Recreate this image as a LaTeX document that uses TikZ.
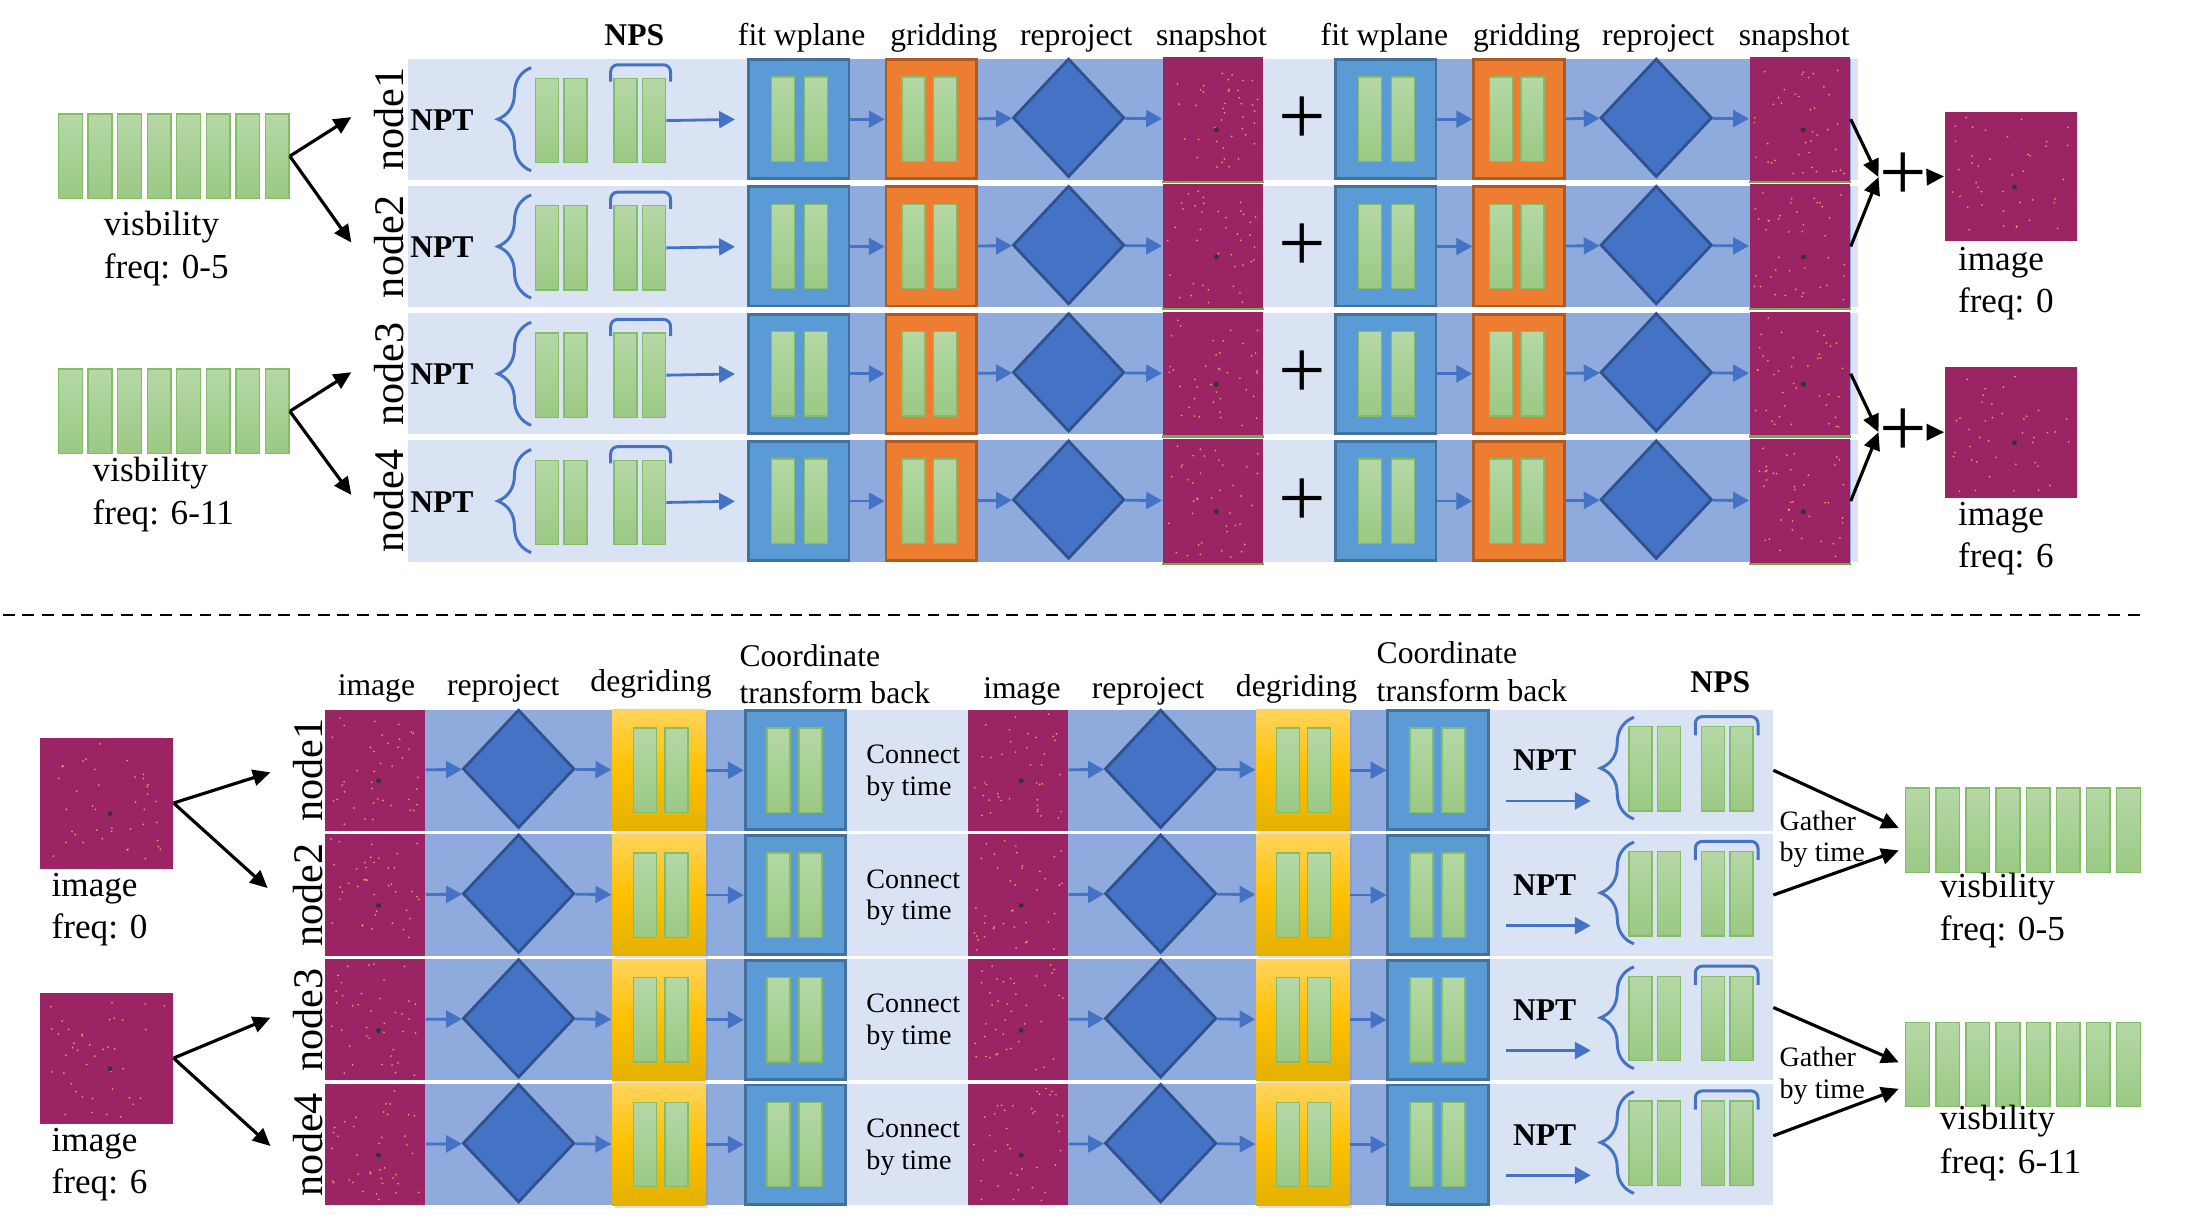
\documentclass[tikz,border=0pt]{standalone}
\usepackage{fontspec}
\setmainfont{Liberation Serif}
\usepackage{xcolor}
\usepackage{tikz}
\usetikzlibrary{shapes.geometric, arrows.meta, positioning, shadows, decorations.pathreplacing}

\definecolor{panelbg}{HTML}{DAE3F3}
\definecolor{bandbg}{HTML}{8FAADC}
\definecolor{fitfill}{HTML}{5B9BD5}
\definecolor{fitline}{HTML}{41719C}
\definecolor{gridfill}{HTML}{ED7D31}
\definecolor{gridline}{HTML}{AE5A21}
\definecolor{projfill}{HTML}{4472C4}
\definecolor{projline}{HTML}{2F528F}
\definecolor{skyfill}{HTML}{9B2464}
\definecolor{speck}{HTML}{F8C95A}
\definecolor{bartop}{HTML}{B5D8A6}
\definecolor{barbot}{HTML}{9BC984}
\definecolor{barline}{HTML}{84BC68}
\definecolor{flowblue}{HTML}{4472C4}
\definecolor{goldtop}{HTML}{FFD45C}
\definecolor{goldmid}{HTML}{FFC000}
\definecolor{goldbot}{HTML}{E3B100}
\definecolor{snapedge}{HTML}{70AD47}

\newcommand*{\pxu}{0.013941cm}

\tikzset{
  rowpanel/.style={rectangle, fill=panelbg, inner sep=0, outer sep=0, minimum height=87*\pxu},
  band/.style={rectangle, fill=bandbg, inner sep=0, outer sep=0, minimum height=87*\pxu},
  bar/.style={rectangle, draw=barline, line width=0.4pt, top color=bartop, bottom color=barbot, inner sep=0, minimum width=16.5*\pxu, minimum height=60.5*\pxu},
  fitbox/.style={rectangle, draw=fitline, fill=fitfill, line width=0.8pt, inner sep=0, minimum width=72*\pxu, minimum height=85.5*\pxu},
  gridbox/.style={fitbox, draw=gridline, fill=gridfill, minimum width=65*\pxu},
  degridbox/.style={rectangle, inner sep=0, top color=goldtop, bottom color=goldbot, middle color=goldmid, minimum width=67*\pxu, minimum height=87*\pxu, drop shadow={opacity=0.25, shadow xshift=0.8pt, shadow yshift=-0.8pt}},
  projdiamond/.style={diamond, draw=projline, fill=projfill, line width=0.8pt, inner sep=0, minimum width=80*\pxu, minimum height=85*\pxu},
  skyimg/.style={rectangle, fill=skyfill, inner sep=0, minimum width=72*\pxu, minimum height=87*\pxu},
  flow/.style={-{Triangle[length=4.5pt, width=4.8pt]}, draw=flowblue, line width=0.8pt},
  split/.style={-{Triangle[length=5pt, width=4.6pt]}, line width=0.9pt},
  brk/.style={draw=flowblue, line width=0.85pt, rounded corners=2pt},
  npbrace/.style={draw=flowblue, line width=0.85pt, decorate, decoration={brace, amplitude=9.5pt}},
  head/.style={anchor=base, inner sep=0, font=\fontsize{9}{10}\selectfont},
  headl/.style={head, anchor=base west},
  headb/.style={head, font=\fontsize{9}{10}\selectfont\bfseries},
  tag/.style={inner sep=0, font=\fontsize{9}{10}\selectfont\bfseries},
  nodelbl/.style={rotate=90, inner sep=0, font=\fontsize{12}{12}\selectfont},
  lbl/.style={anchor=base west, inner sep=0, font=\fontsize{10}{12}\selectfont},
  note/.style={anchor=base west, inner sep=0, font=\fontsize{8}{9}\selectfont},
  plussign/.style={inner sep=0, font=\fontsize{24}{24}\selectfont},
  cutline/.style={dash pattern=on 3.4pt off 2.2pt, line width=0.6pt},
}

% two green blocks side by side: [gap]{name}{x}{y}
\newcommand{\twobars}[4][3]{%
  \node[bar, anchor=east] (#2-l) at ({#3-#1/2},#4) {};
  \node[bar, anchor=west] (#2-r) at ({#3+#1/2},#4) {};}

% speckled sky picture: {node}{half width pt}{half height pt}
\newcommand{\speckle}[3]{%
  \foreach \k in {1,...,40}{%
    \fill[speck, opacity=0.75] ([xshift=rand*#2pt, yshift=rand*#3pt]#1.center) circle (0.28pt);}
  \fill[black!80] ([xshift=1pt, yshift=-3pt]#1.center) circle (0.7pt);}

\begin{document}
\begin{tikzpicture}[x=\pxu, y=-\pxu]
  \useasboundingbox (0,0) rectangle (1568,881);
  \pgfmathsetseed{11}

  % ---- top half: visibilities -> images
  \foreach \j in {1,...,8}{
    \node[bar, minimum width=17*\pxu] (visA\j) at ({50.5+21.2*(\j-1)},112) {};
    \node[bar, minimum width=17*\pxu] (visB\j) at ({50.5+21.2*(\j-1)},295) {};
  }
  \node[lbl] (visAt) at (74,168.6) {visbility};
  \node[lbl] (visAf) at (74,199.5) {freq: 0-5};
  \node[lbl] (visBt) at (66,345.5) {visbility};
  \node[lbl] (visBf) at (66,376.5) {freq: 6-11};

  \node[headb] (hNPSA) at (455,32.3) {NPS};
  \node[head] (hFitA) at (575,32.3) {fit wplane};
  \node[head] (hGridA) at (677,32.3) {gridding};
  \node[head] (hProjA) at (772,32.3) {reproject};
  \node[head] (hSnapA) at (869,32.3) {snapshot};
  \node[head] (hFitB) at (993,32.3) {fit wplane};
  \node[head] (hGridB) at (1095,32.3) {gridding};
  \node[head] (hProjB) at (1189.5,32.3) {reproject};
  \node[head] (hSnapB) at (1287,32.3) {snapshot};

  \foreach \i/\y in {1/85.5,2/176.8,3/268.1,4/359.4}{
    \node[rowpanel, minimum width=1040*\pxu] (rowA\i) at (813,\y) {};
    \node[band, minimum width=369*\pxu] (bandA\i) at (721.5,\y) {};
    \node[band, minimum width=371*\pxu] (bandB\i) at (1142.5,\y) {};
    \node[nodelbl] (nameA\i) at (279,\y) {node\i};
    \node[tag] (nptA\i) at (317,\y+0.5) {NPT};
    \draw[npbrace] (381,\y+37) -- (381,\y-37);
    \twobars{ntA\i}{402.5}{\y+1}
    \draw[brk] (438,\y-27) -- (438,\y-39) -- (481,\y-39) -- (481,\y-27);
    \twobars{nsA\i}{459}{\y+1}
    % first pass
    \node[fitbox] (fitA\i) at (573,\y) {};
    \twobars[6]{fbA\i}{573.5}{\y}
    \node[gridbox] (gridA\i) at (668,\y) {};
    \twobars[5]{gbA\i}{666.5}{\y}
    \node[projdiamond] (projA\i) at (766.5,\y-1) {};
    \node[skyimg, minimum height=89*\pxu] (snapA\i) at (870,\y) {};
    \draw[snapedge, line width=0.7pt] (snapA\i.south west) -- (snapA\i.south east);
    \speckle{snapA\i}{13}{16}
    \node[plussign] (plusA\i) at (934,\y+1) {+};
    % second pass
    \node[fitbox] (fitB\i) at (994,\y) {};
    \twobars[6]{fbB\i}{994.5}{\y}
    \node[gridbox] (gridB\i) at (1089.5,\y) {};
    \twobars[5]{gbB\i}{1088}{\y}
    \node[projdiamond] (projB\i) at (1188,\y-1) {};
    \node[skyimg, minimum height=89*\pxu] (snapB\i) at (1291,\y) {};
    \draw[snapedge, line width=0.7pt] (snapB\i.south west) -- (snapB\i.south east);
    \speckle{snapB\i}{13}{16}
    \draw[flow, shorten >=3.5pt] (nsA\i-r.east) -- (fitA\i.west);
    \draw[flow] (fitA\i) -- (gridA\i);
    \draw[flow] (gridA\i) -- (projA\i);
    \draw[flow] (projA\i) -- (snapA\i);
    \draw[flow] (fitB\i) -- (gridB\i);
    \draw[flow] (gridB\i) -- (projB\i);
    \draw[flow] (projB\i) -- (snapB\i);
  }

  \coordinate (inA1) at (252,84);
  \coordinate (inA2) at (252,174);
  \coordinate (inA3) at (252,267);
  \coordinate (inA4) at (252,355);
  \draw[split] (visA8.east) -- (inA1);
  \draw[split] (visA8.east) -- (inA2);
  \draw[split] (visB8.east) -- (inA3);
  \draw[split] (visB8.east) -- (inA4);

  \node[plussign] (sumA) at (1365,127) {+};
  \node[skyimg, minimum width=95*\pxu, minimum height=93*\pxu] (imgA) at (1442.5,126.5) {};
  \speckle{imgA}{17}{17}
  \node[plussign] (sumB) at (1365,310) {+};
  \node[skyimg, minimum width=95*\pxu, minimum height=94*\pxu] (imgB) at (1442.5,310) {};
  \speckle{imgB}{17}{17}
  \draw[split] (snapB1.east) -- (sumA.west);
  \draw[split] (snapB2.east) -- (sumA.west);
  \draw[split] (sumA.east) -- (imgA.west);
  \draw[split] (snapB3.east) -- (sumB.west);
  \draw[split] (snapB4.east) -- (sumB.west);
  \draw[split] (sumB.east) -- (imgB.west);
  \node[lbl] (imgAt) at (1404,194) {image};
  \node[lbl] (imgAf) at (1404,224) {freq: 0};
  \node[lbl] (imgBt) at (1404,377) {image};
  \node[lbl] (imgBf) at (1404,407) {freq: 6};

  \draw[cutline] (2,441) -- (1540,441);

  % ---- bottom half: images -> visibilities
  \node[skyimg, minimum width=95*\pxu, minimum height=94*\pxu] (imgC) at (76.5,576) {};
  \speckle{imgC}{17}{17}
  \node[skyimg, minimum width=95*\pxu, minimum height=94*\pxu] (imgD) at (76.5,759) {};
  \speckle{imgD}{17}{17}
  \node[lbl] (imgCt) at (36.6,643) {image};
  \node[lbl] (imgCf) at (36.6,673) {freq: 0};
  \node[lbl] (imgDt) at (36.6,826) {image};
  \node[lbl] (imgDf) at (36.6,856) {freq: 6};
  \coordinate (inB1) at (194,554);
  \coordinate (inB2) at (192,637);
  \coordinate (inB3) at (194,730);
  \coordinate (inB4) at (194,822);
  \draw[split] (imgC.east) -- (inB1);
  \draw[split] (imgC.east) -- (inB2);
  \draw[split] (imgD.east) -- (inB3);
  \draw[split] (imgD.east) -- (inB4);

  \node[head] (hImgA) at (270,498.6) {image};
  \node[head] (hRprA) at (361,498.6) {reproject};
  \node[head] (hDgrA) at (467,496) {degriding};
  \node[headl] (hCoA) at (530,478.2) {Coordinate};
  \node[headl] (hTbA) at (530,504.4) {transform back};
  \node[head] (hImgB) at (733,500.8) {image};
  \node[head] (hRprB) at (823.5,500.8) {reproject};
  \node[head] (hDgrB) at (930,499.8) {degriding};
  \node[headl] (hCoB) at (987,476) {Coordinate};
  \node[headl] (hTbB) at (987,503) {transform back};
  \node[headb] (hNPSB) at (1234,497) {NPS};

  \foreach \i/\y in {1/552.5,2/642,3/731.5,4/821}{
    \node[rowpanel, minimum width=1039*\pxu] (rowB\i) at (752.5,\y) {};
    \node[band, minimum width=374*\pxu] (bandC\i) at (420,\y) {};
    \node[band, minimum width=374*\pxu] (bandD\i) at (881,\y) {};
    \node[nodelbl] (nameB\i) at (221,\y) {node\i};
    % first pass
    \node[skyimg] (tileA\i) at (269,\y) {};
    \speckle{tileA\i}{13}{16}
    \node[projdiamond] (rprA\i) at (372,\y-1) {};
    \node[degridbox] (dgrA\i) at (472.5,\y) {};
    \twobars[5]{dbA\i}{474}{\y}
    \node[fitbox] (ctbA\i) at (570.5,\y) {};
    \twobars[5.5]{cbA\i}{570}{\y}
    \node[note] (cnA\i) at (621,\y-4.9) {Connect};
    \node[note] (ctA\i) at (621,\y+17.9) {by time};
    % second pass
    \node[skyimg] (tileB\i) at (730,\y) {};
    \speckle{tileB\i}{13}{16}
    \node[projdiamond] (rprB\i) at (832.5,\y-1) {};
    \node[degridbox] (dgrB\i) at (934.5,\y) {};
    \twobars[5]{dbB\i}{935}{\y}
    \node[fitbox] (ctbB\i) at (1031.5,\y) {};
    \twobars[5.5]{cbB\i}{1031}{\y}
    \node[tag] (nptB\i) at (1108,\y-7) {NPT};
    \coordinate (npsrcB\i) at (1080,\y+22);
    \coordinate (npdstB\i) at (1141,\y+22);
    \draw[flow] (npsrcB\i) -- (npdstB\i);
    \draw[npbrace] (1172,\y+35) -- (1172,\y-38);
    \twobars{ntB\i}{1187}{\y-1}
    \draw[brk] (1216,\y-25) -- (1216,\y-38.5) -- (1261,\y-38.5) -- (1261,\y-25);
    \twobars{nsB\i}{1239}{\y-1}
    \draw[flow] (tileA\i) -- (rprA\i);
    \draw[flow] (rprA\i) -- (dgrA\i);
    \draw[flow] (dgrA\i) -- (ctbA\i);
    \draw[flow] (tileB\i) -- (rprB\i);
    \draw[flow] (rprB\i) -- (dgrB\i);
    \draw[flow] (dgrB\i) -- (ctbB\i);
  }

  \foreach \j in {1,...,8}{
    \node[bar, minimum width=17*\pxu] (visC\j) at ({1375.5+21.6*(\j-1)},595.5) {};
    \node[bar, minimum width=17*\pxu] (visD\j) at ({1375.5+21.6*(\j-1)},763.5) {};
  }
  \coordinate (gaC1) at (1362,594);
  \coordinate (gaC2) at (1362,610);
  \coordinate (gaD1) at (1362,762);
  \coordinate (gaD2) at (1362,781);
  \draw[split] (rowB1.east) -- (gaC1);
  \draw[split] (rowB2.east) -- (gaC2);
  \draw[split] ([yshift=3.5pt]rowB3.east) -- (gaD1);
  \draw[split] ([yshift=2.5pt]rowB4.east) -- (gaD2);
  \node[note] (gtC) at (1276,595.8) {Gather};
  \node[note] (gbC) at (1276,618) {by time};
  \node[note] (gtD) at (1276,765) {Gather};
  \node[note] (gbD) at (1276,787.6) {by time};
  \node[lbl] (visCt) at (1391,643.8) {visbility};
  \node[lbl] (visCf) at (1391,674.8) {freq: 0-5};
  \node[lbl] (visDt) at (1391,810) {visbility};
  \node[lbl] (visDf) at (1391,841.5) {freq: 6-11};
\end{tikzpicture}
\end{document}
